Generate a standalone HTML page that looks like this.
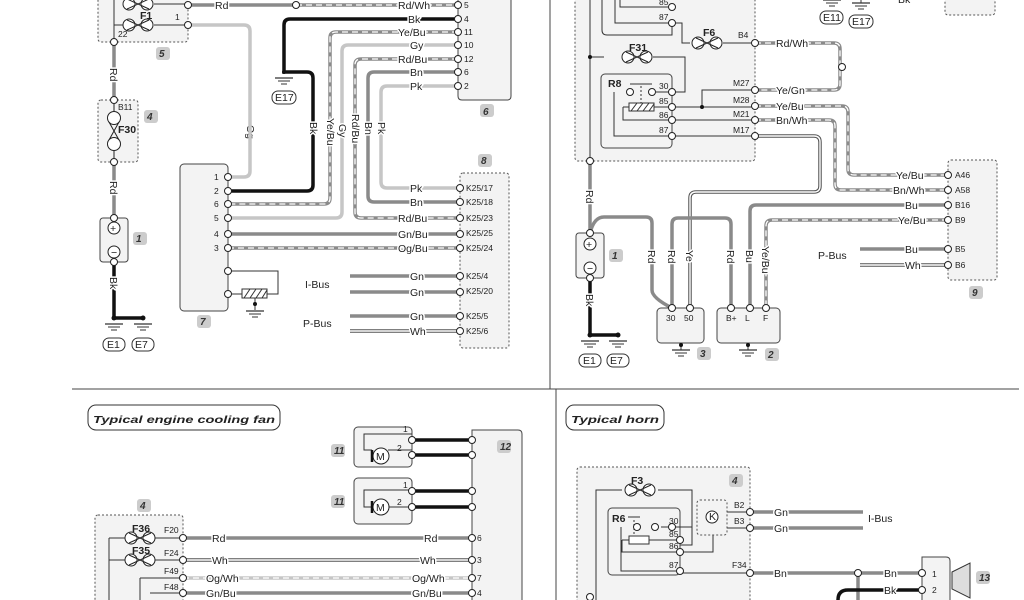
<!DOCTYPE html>
<html><head><meta charset="utf-8"><style>
html,body{margin:0;padding:0;background:#fff}
svg{display:block}
text{font-family:"Liberation Sans",sans-serif;font-size:10.5px;fill:#222;paint-order:stroke;stroke:#fff;stroke-width:3px;stroke-linejoin:round}
.nt{stroke:none}
.w{fill:none;stroke:#8a8a8a;stroke-width:3.5}
.k{fill:none;stroke:#111;stroke-width:3.5}
.l{fill:none;stroke:#c6c6c6;stroke-width:3.5}
.d{fill:none;stroke:#fff;stroke-width:1.3;stroke-dasharray:6 4}
.db{fill:none;stroke:#555;stroke-width:3.5}
.dbi{fill:none;stroke:#fff;stroke-width:1.4}
.t{fill:none;stroke:#333;stroke-width:1}
.box{fill:#f3f3f3;stroke:#444;stroke-width:1}
.dot{fill:#f3f3f3;stroke:#555;stroke-width:1;stroke-dasharray:2 2}
.n{fill:#fff;stroke:#222;stroke-width:1}
.tag{fill:#ccc;stroke:none}
.tg{font-size:10px;font-weight:bold;font-style:italic;stroke:none;fill:#333}
.s{font-size:8.5px}
</style></head><body>
<svg width="1024" height="600" viewBox="0 0 1024 600" xmlns="http://www.w3.org/2000/svg">
<defs>
<g id="gnd"><line x1="-9" y1="0" x2="9" y2="0" stroke="#333" stroke-width="1.2"/><line x1="-6" y1="3" x2="6" y2="3" stroke="#333"/><line x1="-3" y1="6" x2="3" y2="6" stroke="#333"/></g>
<g id="fuseH"><circle cx="-9" cy="0" r="6" class="n"/><circle cx="9" cy="0" r="6" class="n"/><path d="M-11 -5 L11 5 M-11 5 L11 -5" stroke="#222" fill="none"/></g>
</defs>

<!-- ===== TOP LEFT ===== -->
<rect x="98" y="-5" width="90" height="47" rx="3" class="dot"/>
<path d="M114 -5 V42 M114 25 H125" class="t"/>
<use href="#fuseH" x="138" y="4"/><use href="#fuseH" x="138" y="25"/>
<path d="M154 25 H188 M154 4 H188" class="t"/>
<text x="140" y="19" class="nt" font-weight="bold" font-size="11">F1</text>
<text x="175" y="20" class="nt s">1</text><text x="118" y="37" class="nt s">22</text>
<rect x="156" y="47" width="14" height="13" rx="3" class="tag"/><text x="159" y="57" class="tg">5</text>

<path d="M188 5 H296" class="w"/><path d="M296 5 H458" class="w"/><path d="M296 5 H458" class="d"/>
<text x="215" y="9">Rd</text><text x="398" y="9">Rd/Wh</text>
<path d="M458 -5 V96 Q458 100 462 100 H507 Q511 100 511 96 V-5" class="box"/>
<rect x="480" y="104" width="14" height="13" rx="3" class="tag"/><text x="483" y="115" class="tg">6</text>
<path d="M458 19 H290 Q284 19 284 25 V72 H307 Q313 72 313 78 V185 Q313 191 307 191 H228" class="k"/>
<circle cx="284" cy="72" r="2" fill="#111"/>
<use href="#gnd" x="284" y="78"/>
<rect x="272" y="91" width="24" height="13" rx="6" fill="#fff" stroke="#333"/><text x="275" y="101" class="nt">E17</text>
<text x="408" y="23">Bk</text>
<path d="M458 32 H336 Q330 32 330 38 V198 Q330 204 324 204 H228" class="w"/><path d="M458 32 H336 Q330 32 330 38 V198 Q330 204 324 204 H228" class="d"/>
<text x="398" y="36">Ye/Bu</text>
<path d="M458 45 H348 Q342 45 342 51 V212 Q342 218 336 218 H228" class="l"/>
<text x="410" y="49">Gy</text>
<path d="M458 59 H361 Q355 59 355 65 V212 Q355 218 361 218 H458" class="w"/><path d="M458 59 H361 Q355 59 355 65 V212 Q355 218 361 218 H458" class="d"/>
<text x="398" y="63">Rd/Bu</text><text x="398" y="222">Rd/Bu</text>
<path d="M458 72 H374 Q368 72 368 78 V196 Q368 202 374 202 H458" class="w" stroke="#777"/>
<text x="410" y="76">Bn</text><text x="410" y="206">Bn</text>
<path d="M458 86 H387 Q381 86 381 92 V182 Q381 188 387 188 H458" class="l" stroke="#d4d4d4"/>
<text x="410" y="90">Pk</text><text x="410" y="192">Pk</text>
<g><text transform="translate(310,122) rotate(90)">Bk</text>
<text transform="translate(327,118) rotate(90)">Ye/Bu</text>
<text transform="translate(339,124) rotate(90)">Gy</text>
<text transform="translate(352,114) rotate(90)">Rd/Bu</text>
<text transform="translate(365,122) rotate(90)">Bn</text>
<text transform="translate(378,122) rotate(90)">Pk</text>
<text transform="translate(247,125) rotate(90)">Og</text></g>
<g><text x="464" y="8" class="nt s">5</text><text x="464" y="22" class="nt s">4</text><text x="464" y="35" class="nt s">11</text><text x="464" y="48" class="nt s">10</text><text x="464" y="62" class="nt s">12</text><text x="464" y="75" class="nt s">6</text><text x="464" y="89" class="nt s">2</text></g>
<path d="M188 25 H244 Q250 25 250 31 V171 Q250 177 244 177 H228" class="l"/>
<rect x="180" y="164" width="48" height="147" rx="4" class="box"/>
<rect x="197" y="315" width="14" height="13" rx="3" class="tag"/><text x="200" y="325" class="tg">7</text>
<g><text x="214" y="180" class="nt s">1</text><text x="214" y="194" class="nt s">2</text><text x="214" y="207" class="nt s">6</text><text x="214" y="221" class="nt s">5</text><text x="214" y="237" class="nt s">4</text><text x="214" y="251" class="nt s">3</text></g>
<path d="M228 234 H458" class="w"/><text x="398" y="238">Gn/Bu</text>
<path d="M228 248 H458" class="w"/><path d="M228 248 H458" class="d"/><text x="398" y="252">Og/Bu</text>
<path d="M228 271 H278 V294 H267 M228 294 H242" class="t"/>
<rect x="242" y="289" width="25" height="9" fill="#fff" stroke="#333"/>
<path d="M244 298 l6 -9 M250 298 l6 -9 M256 298 l6 -9 M262 298 l5 -8" stroke="#333"/>
<path d="M255 298 V310" class="t"/><circle cx="255" cy="304" r="2" fill="#111"/><use href="#gnd" x="255" y="311"/>
<rect x="460" y="173" width="49" height="175" rx="3" class="dot"/>
<rect x="478" y="154" width="14" height="13" rx="3" class="tag"/><text x="481" y="164" class="tg">8</text>
<path d="M350 276 H458 M350 292 H458 M350 316 H458" class="w"/>
<path d="M350 331 H458" class="db"/><path d="M350 331 H458" class="dbi"/>
<text x="410" y="280">Gn</text><text x="410" y="296">Gn</text><text x="410" y="320">Gn</text><text x="410" y="335">Wh</text>
<text x="305" y="288" class="nt">I-Bus</text><text x="303" y="327" class="nt">P-Bus</text>
<g><text x="466" y="191" class="nt s">K25/17</text><text x="466" y="205" class="nt s">K25/18</text><text x="466" y="221" class="nt s">K25/23</text><text x="466" y="236" class="nt s">K25/25</text><text x="466" y="251" class="nt s">K25/24</text><text x="466" y="279" class="nt s">K25/4</text><text x="466" y="294" class="nt s">K25/20</text><text x="466" y="319" class="nt s">K25/5</text><text x="466" y="334" class="nt s">K25/6</text></g>
<path d="M114 42 V100 M114 162 V218" class="w"/>
<text transform="translate(110,68) rotate(90)">Rd</text><text transform="translate(110,181) rotate(90)">Rd</text>
<rect x="98" y="100" width="40" height="62" rx="3" class="dot"/>
<circle cx="114" cy="118" r="6.5" class="n"/><circle cx="114" cy="144" r="6.5" class="n"/>
<path d="M109 122 L119 140 M119 122 L109 140 M114 100 V111 M114 151 V162" stroke="#222" fill="none"/>
<text x="118" y="133" class="nt" font-weight="bold" font-size="11">F30</text><text x="118" y="110" class="nt s">B11</text>
<rect x="144" y="110" width="14" height="13" rx="3" class="tag"/><text x="147" y="120" class="tg">4</text>
<rect x="100" y="218" width="28" height="44" rx="3" class="box"/>
<circle cx="114" cy="228" r="6" class="n"/><text x="110" y="232" class="nt">+</text>
<circle cx="114" cy="252" r="6" class="n"/><text x="111" y="256" class="nt">−</text>
<rect x="133" y="232" width="14" height="13" rx="3" class="tag"/><text x="136" y="242" class="tg">1</text>
<path d="M114 262 V318 H143" class="k"/><text transform="translate(110,277) rotate(90)">Bk</text>
<circle cx="114" cy="318" r="2.5" fill="#111"/><circle cx="143" cy="318" r="2.5" fill="#111"/>
<use href="#gnd" x="114" y="324"/><use href="#gnd" x="143" y="324"/>
<rect x="103" y="338" width="22" height="13" rx="6" fill="#fff" stroke="#333"/><text x="107" y="348" class="nt">E1</text>
<rect x="132" y="338" width="22" height="13" rx="6" fill="#fff" stroke="#333"/><text x="135" y="348" class="nt">E7</text>
<g class="n"><circle cx="188" cy="5" r="3.5"/><circle cx="188" cy="25" r="3.5"/><circle cx="114" cy="42" r="3.5"/><circle cx="296" cy="5" r="3.5"/>
<circle cx="458" cy="5" r="3.5"/><circle cx="458" cy="19" r="3.5"/><circle cx="458" cy="32" r="3.5"/><circle cx="458" cy="45" r="3.5"/><circle cx="458" cy="59" r="3.5"/><circle cx="458" cy="72" r="3.5"/><circle cx="458" cy="86" r="3.5"/>
<circle cx="228" cy="177" r="3.5"/><circle cx="228" cy="191" r="3.5"/><circle cx="228" cy="204" r="3.5"/><circle cx="228" cy="218" r="3.5"/><circle cx="228" cy="234" r="3.5"/><circle cx="228" cy="248" r="3.5"/><circle cx="228" cy="271" r="3.5"/><circle cx="228" cy="294" r="3.5"/>
<circle cx="460" cy="188" r="3.5"/><circle cx="460" cy="202" r="3.5"/><circle cx="460" cy="218" r="3.5"/><circle cx="460" cy="234" r="3.5"/><circle cx="460" cy="248" r="3.5"/><circle cx="460" cy="276" r="3.5"/><circle cx="460" cy="292" r="3.5"/><circle cx="460" cy="316" r="3.5"/><circle cx="460" cy="331" r="3.5"/>
<circle cx="114" cy="100" r="3.5"/><circle cx="114" cy="162" r="3.5"/><circle cx="114" cy="218" r="3.5"/><circle cx="114" cy="262" r="3.5"/></g>

<line x1="550" y1="0" x2="550" y2="389" stroke="#444" stroke-width="1"/>
<line x1="72" y1="389" x2="1019" y2="389" stroke="#444" stroke-width="1"/>
<line x1="556" y1="389" x2="556" y2="600" stroke="#444" stroke-width="1"/>

<!-- ===== TOP RIGHT ===== -->
<rect x="575" y="-5" width="180" height="166" rx="3" class="dot"/>
<path d="M590 -5 V233" class="t"/><path d="M590 161 V233" class="w"/>
<path d="M602 -5 V30 Q602 35 607 35 H672 V23 M615 -5 V23 H672 M620 -5 V7 H672" class="t"/>
<text x="659" y="5" class="nt s">85</text><text x="659" y="20" class="nt s">87</text>
<path d="M672 23 H682 V43 H690" class="t"/>
<use href="#fuseH" x="707" y="43"/><path d="M723 43 H755" class="t"/>
<text x="703" y="36" class="nt" font-weight="bold" font-size="11">F6</text><text x="738" y="38" class="nt s">B4</text>
<path d="M590 57 H604" class="t"/><circle cx="590" cy="57" r="2" fill="#111"/>
<use href="#fuseH" x="637" y="57"/><text x="629" y="51" class="nt" font-weight="bold" font-size="11">F31</text>
<path d="M653 57 H685 V92 H672" class="t"/>
<rect x="601" y="74" width="71" height="74" rx="4" class="box"/>
<text x="608" y="87" class="nt" font-weight="bold" font-size="11">R8</text>
<path d="M630 84 H652 M614 92 V136 H672 M623 107 H630 M653 107 H672 M623 107 V120 H672" stroke="#333" fill="none"/>
<path d="M641 86 V104" stroke="#333" stroke-dasharray="2 2"/>
<rect x="629" y="103" width="25" height="8" fill="#fff" stroke="#333"/>
<path d="M631 111 l6 -8 M637 111 l6 -8 M643 111 l6 -8 M649 111 l5 -7" stroke="#333"/>
<circle cx="630" cy="92" r="3.5" class="n"/><circle cx="652" cy="92" r="3.5" class="n"/><path d="M655 92 H672" class="t"/>
<text x="659" y="89" class="nt s">30</text><text x="659" y="104" class="nt s">85</text><text x="659" y="118" class="nt s">86</text><text x="659" y="133" class="nt s">87</text>
<path d="M672 107 H755 M672 120 H755 M672 136 H755 M702 107 V90 H755" class="t"/><circle cx="702" cy="107" r="2" fill="#111"/>
<text x="733" y="86" class="nt s">M27</text><text x="733" y="103" class="nt s">M28</text><text x="733" y="117" class="nt s">M21</text><text x="733" y="133" class="nt s">M17</text>
<path d="M755 43 H834 Q840 43 840 49 V84 Q840 90 834 90 H755" class="w"/><path d="M755 43 H834 Q840 43 840 49 V84 Q840 90 834 90 H755" class="d"/>
<text x="776" y="47">Rd/Wh</text><text x="776" y="94">Ye/Gn</text>
<path d="M755 106 H842 Q848 106 848 112 V169 Q848 175 854 175 H948" class="w"/><path d="M755 106 H842 Q848 106 848 112 V169 Q848 175 854 175 H948" class="d"/>
<text x="776" y="110">Ye/Bu</text><text x="896" y="179">Ye/Bu</text>
<path d="M755 120 H829 Q835 120 835 126 V184 Q835 190 841 190 H948" class="w" stroke="#666"/><path d="M755 120 H829 Q835 120 835 126 V184 Q835 190 841 190 H948" class="d"/>
<text x="776" y="124">Bn/Wh</text><text x="893" y="194">Bn/Wh</text>
<path d="M755 136 H814 Q820 136 820 142 V186 Q820 192 814 192 H696 Q690 192 690 198 V308" class="db"/><path d="M755 136 H814 Q820 136 820 142 V186 Q820 192 814 192 H696 Q690 192 690 198 V308" class="dbi"/>
<path d="M948 205 H756 Q750 205 750 211 V308" class="w" stroke="#7a7a7a"/><text x="905" y="209">Bu</text>
<path d="M948 220 H772 Q766 220 766 226 V308" class="w"/><path d="M948 220 H772 Q766 220 766 226 V308" class="d"/><text x="898" y="224">Ye/Bu</text>
<path d="M860 249 H948" class="w" stroke="#7a7a7a"/><path d="M860 265 H948" class="db"/><path d="M860 265 H948" class="dbi"/>
<text x="905" y="253">Bu</text><text x="905" y="269">Wh</text><text x="818" y="259" class="nt">P-Bus</text>
<rect x="948" y="160" width="49" height="120" rx="3" class="dot"/>
<g><text x="955" y="178" class="nt s">A46</text><text x="955" y="193" class="nt s">A58</text><text x="955" y="208" class="nt s">B16</text><text x="955" y="223" class="nt s">B9</text><text x="955" y="252" class="nt s">B5</text><text x="955" y="268" class="nt s">B6</text></g>
<rect x="969" y="286" width="14" height="13" rx="3" class="tag"/><text x="972" y="296" class="tg">9</text>
<text transform="translate(586,190) rotate(90)">Rd</text>
<path d="M590 233 Q594 217 604 217 H646 Q652 217 652 223 V290 Q652 298 672 308" class="w"/>
<path d="M672 308 V224 Q672 218 678 218 H725 Q731 218 731 224 V308" class="w"/>
<g><text transform="translate(648,250) rotate(90)">Rd</text><text transform="translate(668,250) rotate(90)">Rd</text><text transform="translate(686,250) rotate(90)">Ye</text><text transform="translate(727,250) rotate(90)">Rd</text><text transform="translate(746,250) rotate(90)">Bu</text><text transform="translate(762,246) rotate(90)">Ye/Bu</text></g>
<rect x="576" y="233" width="28" height="45" rx="3" class="box"/>
<circle cx="590" cy="244" r="6" class="n"/><text x="586" y="248" class="nt">+</text>
<circle cx="590" cy="268" r="6" class="n"/><text x="587" y="272" class="nt">−</text>
<rect x="609" y="249" width="14" height="13" rx="3" class="tag"/><text x="612" y="259" class="tg">1</text>
<path d="M590 278 V335 H618" class="k"/><text transform="translate(586,294) rotate(90)">Bk</text>
<circle cx="590" cy="335" r="2.5" fill="#111"/><circle cx="618" cy="335" r="2.5" fill="#111"/>
<use href="#gnd" x="590" y="341"/><use href="#gnd" x="618" y="341"/>
<rect x="579" y="354" width="22" height="13" rx="6" fill="#fff" stroke="#333"/><text x="583" y="364" class="nt">E1</text>
<rect x="607" y="354" width="22" height="13" rx="6" fill="#fff" stroke="#333"/><text x="610" y="364" class="nt">E7</text>
<rect x="657" y="308" width="47" height="35" rx="4" class="box"/><text x="666" y="321" class="nt s">30</text><text x="684" y="321" class="nt s">50</text>
<rect x="717" y="308" width="63" height="35" rx="4" class="box"/><text x="726" y="321" class="nt s">B+</text><text x="745" y="321" class="nt s">L</text><text x="763" y="321" class="nt s">F</text>
<path d="M681 343 V350 M748 343 V350" class="t"/><circle cx="681" cy="345" r="2" fill="#111"/><circle cx="748" cy="345" r="2" fill="#111"/>
<use href="#gnd" x="681" y="350"/><use href="#gnd" x="748" y="350"/>
<rect x="697" y="347" width="14" height="13" rx="3" class="tag"/><text x="700" y="357" class="tg">3</text>
<rect x="765" y="348" width="14" height="13" rx="3" class="tag"/><text x="768" y="358" class="tg">2</text>
<use href="#gnd" x="832" y="0"/><use href="#gnd" x="861" y="3"/><path d="M861 -5 V3" class="t"/>
<rect x="820" y="11" width="23" height="13" rx="6" fill="#fff" stroke="#333"/><text x="823" y="21" class="nt">E11</text>
<rect x="849" y="15" width="24" height="13" rx="6" fill="#fff" stroke="#333"/><text x="852" y="25" class="nt">E17</text>
<text x="898" y="3" class="nt">Bk</text>
<rect x="945" y="-5" width="50" height="20" rx="3" class="dot"/>
<g class="n"><circle cx="590" cy="161" r="3.5"/><circle cx="590" cy="233" r="3.5"/><circle cx="590" cy="278" r="3.5"/>
<circle cx="672" cy="7" r="3.5"/><circle cx="672" cy="23" r="3.5"/><circle cx="672" cy="92" r="3.5"/><circle cx="672" cy="107" r="3.5"/><circle cx="672" cy="120" r="3.5"/><circle cx="672" cy="136" r="3.5"/>
<circle cx="755" cy="43" r="3.5"/><circle cx="755" cy="90" r="3.5"/><circle cx="755" cy="106" r="3.5"/><circle cx="755" cy="120" r="3.5"/><circle cx="755" cy="136" r="3.5"/><circle cx="842" cy="67" r="3.5"/>
<circle cx="948" cy="175" r="3.5"/><circle cx="948" cy="190" r="3.5"/><circle cx="948" cy="205" r="3.5"/><circle cx="948" cy="220" r="3.5"/><circle cx="948" cy="249" r="3.5"/><circle cx="948" cy="265" r="3.5"/>
<circle cx="672" cy="308" r="3.5"/><circle cx="690" cy="308" r="3.5"/><circle cx="731" cy="308" r="3.5"/><circle cx="750" cy="308" r="3.5"/><circle cx="766" cy="308" r="3.5"/></g>

<!-- ===== BOTTOM LEFT ===== -->
<rect x="88" y="405" width="192" height="25" rx="8" fill="#fff" stroke="#333"/>
<text x="93" y="423" class="nt" font-weight="bold" font-style="italic" font-size="15" textLength="182" lengthAdjust="spacingAndGlyphs">Typical engine cooling fan</text>
<rect x="354" y="427" width="58" height="40" rx="4" class="box"/>
<rect x="354" y="478" width="58" height="46" rx="4" class="box"/>
<path d="M412 434 H364 V450 H372 M388 450 H412 M412 490 H364 V507 H372 M388 507 H412" class="t"/>
<circle cx="381" cy="456" r="8" class="n"/><text x="376" y="460" class="nt">M</text>
<circle cx="381" cy="507" r="8" class="n"/><text x="376" y="511" class="nt">M</text>
<path d="M372 450 V462 M372 501 V513" stroke="#111" stroke-width="2.5"/>
<text x="403" y="432" class="nt s">1</text><text x="397" y="451" class="nt s">2</text><text x="403" y="488" class="nt s">1</text><text x="397" y="505" class="nt s">2</text>
<path d="M412 440 H472 M412 455 H472 M412 491 H472 M412 507 H472" class="k"/>
<rect x="331" y="444" width="14" height="13" rx="3" class="tag"/><text x="334" y="454" class="tg">11</text>
<rect x="331" y="495" width="14" height="13" rx="3" class="tag"/><text x="334" y="505" class="tg">11</text>
<path d="M472 600 V430 H518 Q522 430 522 434 V600" class="box"/>
<rect x="497" y="440" width="14" height="13" rx="3" class="tag"/><text x="500" y="450" class="tg">12</text>
<rect x="95" y="515" width="88" height="90" rx="3" class="dot"/>
<rect x="137" y="499" width="14" height="13" rx="3" class="tag"/><text x="140" y="509" class="tg">4</text>
<path d="M109 538 V600 M109 538 H125 M109 560 H125 M155 538 H183 M155 560 H183 M140 578 H183 M140 578 V600 M150 593 H183" class="t"/>
<use href="#fuseH" x="140" y="538"/><use href="#fuseH" x="140" y="560"/>
<text x="132" y="532" class="nt" font-weight="bold" font-size="11">F36</text><text x="132" y="554" class="nt" font-weight="bold" font-size="11">F35</text>
<text x="164" y="533" class="nt s">F20</text><text x="164" y="556" class="nt s">F24</text><text x="164" y="574" class="nt s">F49</text><text x="164" y="590" class="nt s">F48</text>
<path d="M183 538 H472" class="w"/><text x="212" y="542">Rd</text><text x="424" y="542">Rd</text>
<path d="M183 560 H472" class="db"/><path d="M183 560 H472" class="dbi"/><text x="212" y="564">Wh</text><text x="420" y="564">Wh</text>
<path d="M183 578 H472" class="l"/><path d="M183 578 H472" class="d"/><text x="206" y="582">Og/Wh</text><text x="412" y="582">Og/Wh</text>
<path d="M183 593 H472" class="w"/><text x="206" y="597">Gn/Bu</text><text x="412" y="597">Gn/Bu</text>
<text x="477" y="541" class="nt s">6</text><text x="477" y="563" class="nt s">3</text><text x="477" y="581" class="nt s">7</text><text x="477" y="596" class="nt s">4</text>
<g class="n"><circle cx="412" cy="440" r="3.5"/><circle cx="412" cy="455" r="3.5"/><circle cx="412" cy="491" r="3.5"/><circle cx="412" cy="507" r="3.5"/>
<circle cx="472" cy="440" r="3.5"/><circle cx="472" cy="455" r="3.5"/><circle cx="472" cy="491" r="3.5"/><circle cx="472" cy="507" r="3.5"/>
<circle cx="183" cy="538" r="3.5"/><circle cx="183" cy="560" r="3.5"/><circle cx="183" cy="578" r="3.5"/><circle cx="183" cy="593" r="3.5"/>
<circle cx="472" cy="538" r="3.5"/><circle cx="472" cy="560" r="3.5"/><circle cx="472" cy="578" r="3.5"/><circle cx="472" cy="593" r="3.5"/></g>

<!-- ===== BOTTOM RIGHT ===== -->
<rect x="566" y="405" width="98" height="25" rx="8" fill="#fff" stroke="#333"/>
<text x="571" y="423" class="nt" font-weight="bold" font-style="italic" font-size="15" textLength="88" lengthAdjust="spacingAndGlyphs">Typical horn</text>
<rect x="577" y="467" width="173" height="140" rx="3" class="dot"/>
<rect x="729" y="474" width="14" height="13" rx="3" class="tag"/><text x="732" y="484" class="tg">4</text>
<use href="#fuseH" x="640" y="490"/><text x="631" y="484" class="nt" font-weight="bold" font-size="11">F3</text>
<path d="M622 490 H596 V600 M658 490 H692 V545 H680" class="t"/>
<rect x="608" y="508" width="72" height="67" rx="4" class="box"/>
<text x="612" y="522" class="nt" font-weight="bold" font-size="10">R6</text>
<path d="M628 517 H640" stroke="#333"/><path d="M634 520 V536" stroke="#333" stroke-dasharray="2 2"/>
<rect x="629" y="536" width="20" height="8" fill="#fff" stroke="#333"/>
<path d="M621 527 V571 H680 M649 540 H680 M622 540 H629 M622 540 V552 H680 M661 527 H680 M680 527 H692 M680 552 H713 V535" class="t"/>
<circle cx="637" cy="527" r="3.5" class="n"/><circle cx="655" cy="527" r="3.5" class="n"/>
<text x="669" y="524" class="nt s">30</text><text x="669" y="537" class="nt s">85</text><text x="669" y="549" class="nt s">86</text><text x="669" y="568" class="nt s">87</text>
<rect x="697" y="500" width="30" height="35" rx="3" class="dot" fill="#fff"/><circle cx="712" cy="517" r="6" class="n"/><text x="709" y="520" class="nt" font-size="7">K</text>
<path d="M727 512 H750 M727 528 H750 M680 573 H750" class="t"/>
<text x="734" y="508" class="nt s">B2</text><text x="734" y="524" class="nt s">B3</text><text x="732" y="568" class="nt s">F34</text>
<path d="M750 512 H863 M750 528 H863" class="w"/><text x="774" y="516">Gn</text><text x="774" y="532">Gn</text>
<text x="868" y="522" class="nt">I-Bus</text>
<path d="M750 573 H922" class="w" stroke="#777"/><text x="774" y="577">Bn</text><text x="884" y="577">Bn</text>
<path d="M858 573 V600" class="w"/>
<path d="M838 600 Q838 590 848 590 H922" class="k"/><text x="884" y="594">Bk</text>
<path d="M922 600 V557 H946 Q950 557 950 561 V600" class="box"/>
<path d="M952 572 L970 563 V598 L952 589 Z" fill="#ddd" stroke="#333"/>
<text x="932" y="577" class="nt s">1</text><text x="932" y="593" class="nt s">2</text>
<rect x="976" y="571" width="14" height="13" rx="3" class="tag"/><text x="979" y="581" class="tg">13</text>
<g class="n"><circle cx="672" cy="527" r="3.5"/><circle cx="680" cy="540" r="3.5"/><circle cx="680" cy="552" r="3.5"/><circle cx="680" cy="571" r="3.5"/>
<circle cx="750" cy="512" r="3.5"/><circle cx="750" cy="528" r="3.5"/><circle cx="750" cy="573" r="3.5"/><circle cx="858" cy="573" r="3.5"/>
<circle cx="922" cy="573" r="3.5"/><circle cx="922" cy="590" r="3.5"/><circle cx="590" cy="597" r="3.5"/></g>
</svg>
</body></html>
